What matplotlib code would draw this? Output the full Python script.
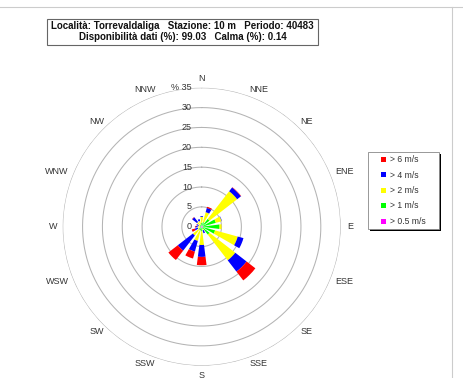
import numpy as np
import matplotlib.pyplot as plt
from matplotlib.patches import Rectangle
from matplotlib.lines import Line2D

plt.rcParams['font.family'] = ['Liberation Sans', 'DejaVu Sans']

# settori di direzione (in senso orario da N)
directions = ['N', 'NNE', 'NE', 'ENE', 'E', 'ESE', 'SE', 'SSE',
              'S', 'SSW', 'SW', 'WSW', 'W', 'WNW', 'NW', 'NNW']

# frequenze (%) per classe di velocita' (non cumulate)
f_05 = [0.3, 0.3, 0.3, 0.3, 0.3, 0.3, 0.3, 0.3, 0.3, 0.3, 0.3, 0.2, 0.2, 0.2, 0.2, 0.2]
f_1 = [0.7, 0.9, 2.2, 3.4, 4.2, 3.2, 2.2, 0.3, 0.9, 0.7, 0.7, 0.3, 0.3, 0.3, 0.4, 0.4]
f_2 = [1.5, 2.6, 8.8, 1.5, 0.5, 5.9, 8.2, 0.3, 3.4, 2.7, 1.8, 0.5, 0.5, 0.3, 0.9, 0.9]
f_4 = [0.2, 1.1, 1.2, 0.1, 0.0, 1.5, 3.6, 0.8, 3.0, 2.8, 4.8, 0.8, 0.5, 0.5, 1.5, 0.5]
f_6 = [0.0, 0.3, 0.1, 0.0, 0.0, 0.0, 2.8, 0.0, 2.1, 1.8, 3.0, 0.8, 0.2, 0.1, 0.1, 0.0]

classes = ['> 0.5 m/s', '> 1 m/s', '> 2 m/s', '> 4 m/s', '> 6 m/s']
colors = ['#ff00ff', '#00ff00', '#ffff00', '#0000ff', '#ff0000']
series = [f_05, f_1, f_2, f_4, f_6]

r_ticks = [0, 5, 10, 15, 20, 25, 30, 35]

W, H = 463, 378
fig = plt.figure(figsize=(W / 100, H / 100), dpi=100)
ax = fig.add_axes([0.1354, 0.0325, 0.6004, 0.7354], projection='polar')
ax.set_theta_zero_location('N')
ax.set_theta_direction(-1)

theta = np.deg2rad(np.arange(16) * 22.5)
width = np.deg2rad(14.5)
bottom = np.zeros(16)
for vals, c, lab in zip(series, colors, classes):
    ax.bar(theta, vals, width=width, bottom=bottom, color=c,
           edgecolor='none', label=lab, zorder=3)
    bottom = bottom + np.array(vals)

ax.set_ylim(0, 35)
ax.set_yticks([])
ax.set_xticks([])
ax.grid(False)
ax.spines['polar'].set_visible(False)

# cerchi concentrici
tt = np.linspace(0, 2 * np.pi, 400)
for r in r_ticks[1:]:
    ax.plot(tt, np.full_like(tt, r), color='#b4b4b4', lw=0.75, zorder=1)

# etichette radiali
for r in r_ticks:
    txt = '% 35' if r == 35 else str(r)
    ax.annotate(txt, xy=(0, r), xytext=(-7, 0), textcoords='offset points',
                ha='right', va='center', fontsize=6.5, color='#333333', zorder=4)

# etichette direzioni
for t, d in zip(theta, directions):
    s = np.sin(t)
    if abs(s) > 0.85 and abs(np.cos(t)) > 0.1:
        ha = 'left' if s > 0 else 'right'
        ax.text(t, 36.3, d, ha=ha, va='center', fontsize=6.5,
                color='#333333', clip_on=False)
    else:
        ax.text(t, 37.4, d, ha='center', va='center', fontsize=6.5,
                color='#333333', clip_on=False)

# riquadro titolo
cx = (47.3 + 135.5) / W
fig.text(cx, 1 - 26 / H, 'Località: Torrevaldaliga   Stazione: 10 m   Periodo: 40483',
         ha='center', va='center', fontsize=7.05, fontweight='bold', color='#111111')
fig.text(cx, 1 - 37.3 / H, 'Disponibilità dati (%): 99.03   Calma (%): 0.14',
         ha='center', va='center', fontsize=7.05, fontweight='bold', color='#111111')
fig.patches.append(Rectangle((47.3 / W, 1 - 45 / H), 271 / W, 25.7 / H,
                             transform=fig.transFigure, fill=False,
                             edgecolor='#666666', lw=0.8))

# bordi della pagina
fig.lines.append(Line2D([0, 1], [1 - 6.7 / H] * 2, transform=fig.transFigure,
                        color='#cccccc', lw=0.8))
fig.lines.append(Line2D([452 / W] * 2, [0, 1 - 6.7 / H], transform=fig.transFigure,
                        color='#cccccc', lw=0.8))

# legenda (disegnata a mano)
lx0, ly0, lx1, ly1 = 368, 151.7, 439.3, 229.3
fig.patches.append(Rectangle(((lx0 + 2) / W, 1 - (ly1 + 2) / H), (lx1 - lx0) / W,
                             (ly1 - ly0) / H, transform=fig.transFigure,
                             facecolor='black', edgecolor='none', zorder=5))
fig.patches.append(Rectangle((lx0 / W, 1 - ly1 / H), (lx1 - lx0) / W, (ly1 - ly0) / H,
                             transform=fig.transFigure, facecolor='white',
                             edgecolor='#888888', lw=0.6, zorder=6))
row_y = [159, 175, 190.5, 205.8, 221]
for y, c, lab in zip(row_y, colors[::-1], classes[::-1]):
    fig.patches.append(Rectangle((380.8 / W, 1 - (y + 2.5) / H), 5 / W, 5 / H,
                                 transform=fig.transFigure, facecolor=c,
                                 edgecolor='none', zorder=7))
    fig.text(390 / W, 1 - y / H, lab, ha='left', va='center', fontsize=6.2,
             color='#333333', zorder=7)

fig.savefig('out.png', dpi=100)
